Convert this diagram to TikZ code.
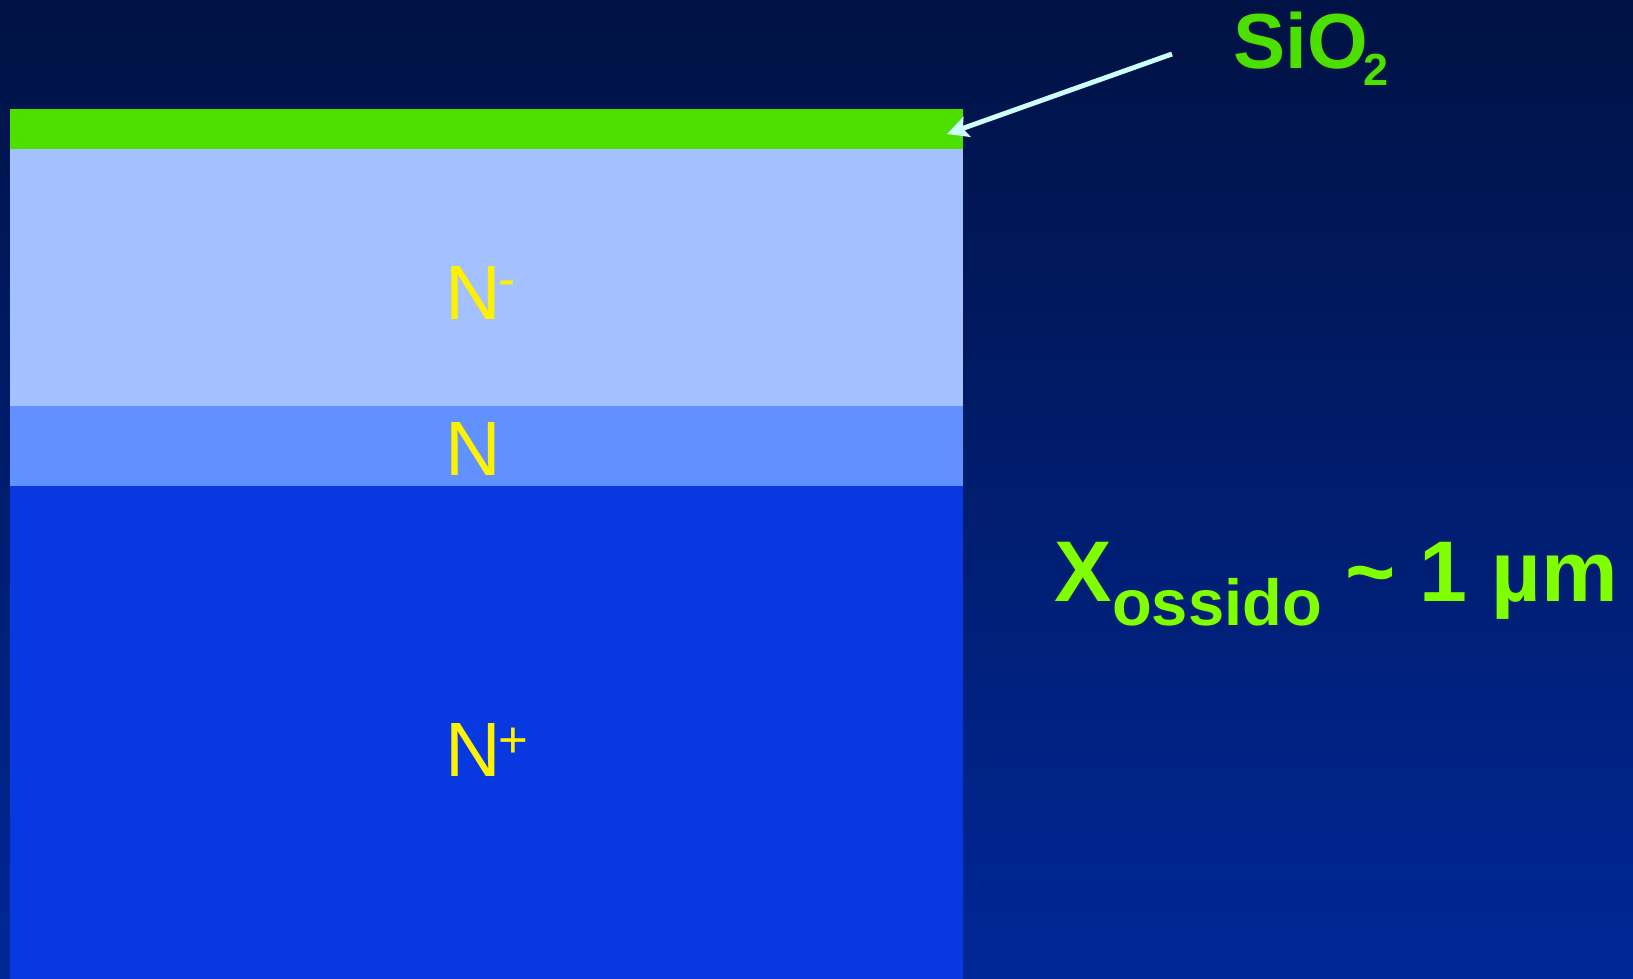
\documentclass[tikz,border=0pt]{standalone}
\usepackage{fontspec}
\setmainfont{Liberation Sans}
\usepackage{tikz}
\usetikzlibrary{positioning}
\usetikzlibrary{arrows.meta}
\definecolor{bgtop}{HTML}{001244}
\definecolor{bgbot}{HTML}{002797}
\definecolor{oxide}{HTML}{4CDF00}
\definecolor{nminus}{HTML}{A3C1FF}
\definecolor{nmid}{HTML}{6190FF}
\definecolor{nplus}{HTML}{0839E0}
\definecolor{lime}{HTML}{80FF00}
\definecolor{pointercol}{HTML}{CCFFFF}
\newcommand{\dopsup}[2]{\kern-0.7pt\raisebox{#1}{\fontsize{14.5}{16}\selectfont #2}}

\begin{document}
\begin{tikzpicture}[x=0.01cm, y=-0.01cm,
    dopant/.style={text=yellow, inner sep=0pt, anchor=base west, font=\fontsize{21.9}{24}\selectfont},
    oxlabel/.style={text=oxide, inner sep=0pt, anchor=base west, font=\bfseries\fontsize{22.2}{25}\selectfont},
    thickness/.style={text=lime, inner sep=0pt, anchor=base west, font=\bfseries\fontsize{24.5}{28}\selectfont},
    pointer/.style={draw=pointercol, line width=1.4pt, -{Stealth[length=6pt, width=6pt, inset=1.2pt]}}]
    \shade[top color=bgtop, bottom color=bgbot] (0,0) rectangle (1633,979);
    \useasboundingbox (0,0) rectangle (1633,979);

    % layers
    \fill[nplus] (10,486) rectangle (963,979);
    \fill[nmid] (10,406) rectangle (963,486);
    \fill[nminus] (10,149) rectangle (963,406);
    \fill[oxide] (10,109) rectangle (963,149);

    \node[dopant] (nm) at (445,320) {N\dopsup{6.8pt}{-}};
    \node[dopant] (n) at (445,475) {N};
    \node[dopant] (np) at (445,776) {N\dopsup{5.2pt}{+}};

    \node[oxlabel] (sio2) at (1233,69) {SiO\kern-1.4pt\raisebox{-4.8pt}{\fontsize{12.8}{14}\selectfont 2}};
    \node[thickness] (xox) at (1054,601) {X\raisebox{-7.1pt}{\fontsize{18.5}{20}\selectfont ossido} \textasciitilde{} 1 µm};

    \coordinate (tail) at (1172,54);
    \coordinate (tip) at (947,134);
    \draw[pointer] (tail) -- (tip);
\end{tikzpicture}
\end{document}
